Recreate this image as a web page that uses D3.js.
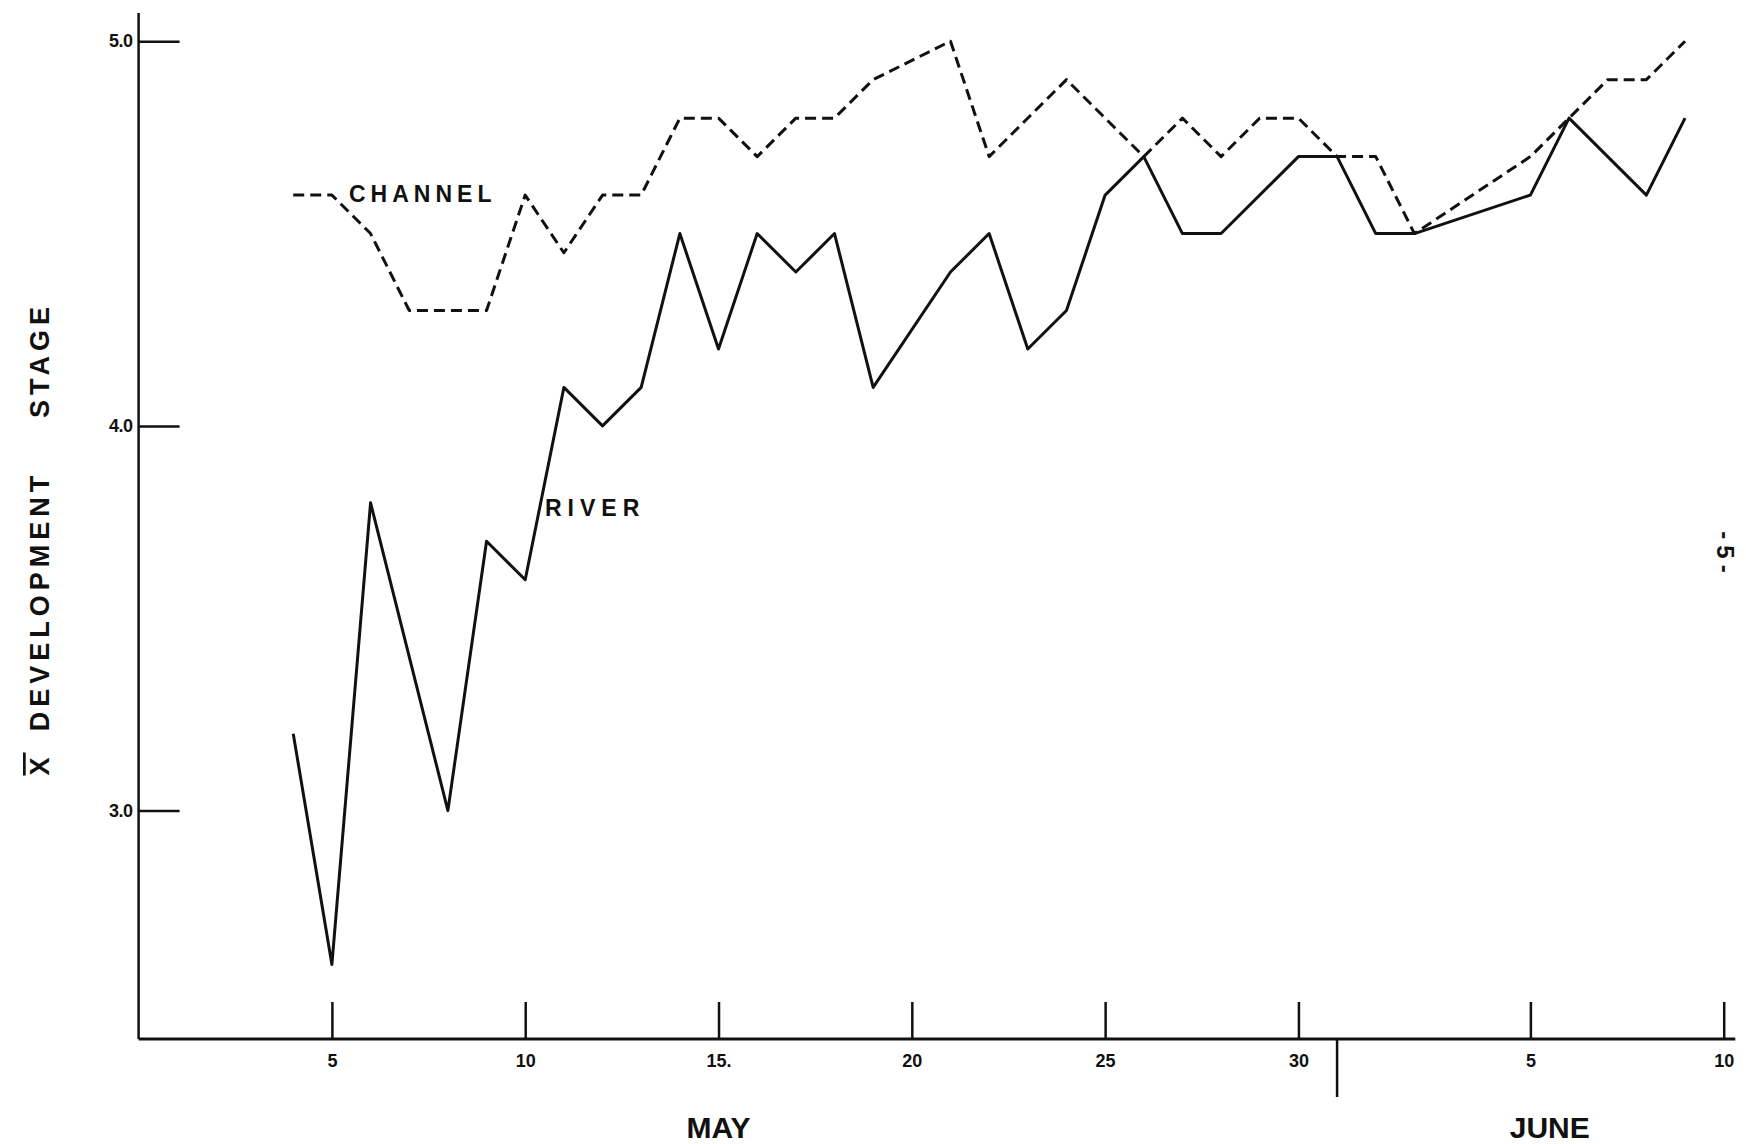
<html>

<head>
    <script src="https://d3js.org/d3.v7.min.js"></script>
    <style>
        body { margin: 0; background: white; }
    </style>
</head>

<body>
    <svg id="chart" width=1746 height=1144></svg>
    <script>
        // day index: May d -> d, June d -> 31 + d
        const riverDays = [4, 5, 6, 8, 9, 10, 11, 12, 13, 14, 15, 16, 17, 18, 19,
            21, 22, 23, 24, 25, 26, 27, 28, 30, 31, 32, 33, 36, 37, 39, 40];
        const riverValues = [3.2, 2.6, 3.8, 3.0, 3.7, 3.6, 4.1, 4.0, 4.1, 4.5, 4.2, 4.5, 4.4, 4.5, 4.1,
            4.4, 4.5, 4.2, 4.3, 4.6, 4.7, 4.5, 4.5, 4.7, 4.7, 4.5, 4.5, 4.6, 4.8, 4.6, 4.8];

        const channelDays = [4, 5, 6, 7, 8, 9, 10, 11, 12, 13, 14, 15, 16, 17, 18, 19,
            21, 22, 24, 26, 27, 28, 29, 30, 31, 32, 33, 36, 37, 38, 39, 40];
        const channelValues = [4.6, 4.6, 4.5, 4.3, 4.3, 4.3, 4.6, 4.45, 4.6, 4.6, 4.8, 4.8, 4.7, 4.8, 4.8, 4.9,
            5.0, 4.7, 4.9, 4.7, 4.8, 4.7, 4.8, 4.8, 4.7, 4.7, 4.5, 4.7, 4.8, 4.9, 4.9, 5.0];

        const xTickDays = [5, 10, 15, 20, 25, 30, 36, 41];
        const xTickLabels = ["5", "10", "15.", "20", "25", "30", "5", "10"];
        const yTickValues = [3, 4, 5];
        const yTickLabels = ["3.0", "4.0", "5.0"];
        const monthBreak = 31;
        const months = [{ name: "MAY", day: 15 }, { name: "JUNE", day: 36.5 }];

        const ink = "#111";
        const font = "'Liberation Sans', Arial, sans-serif";

        let svg = d3.select("#chart");

        let xScale = d3.scaleLinear()
            .domain([0, 41])
            .range([138.6, 1723.7]);
        let yScale = d3.scaleLinear()
            .domain([3, 5])
            .range([810.6, 41.2]);

        const axisY = 1039;
        const axisTop = 13;

        // axis lines
        svg.append("line")
            .attr("x1", xScale(0)).attr("x2", xScale(0))
            .attr("y1", axisTop).attr("y2", axisY)
            .attr("stroke", ink).attr("stroke-width", 2.5);
        svg.append("line")
            .attr("x1", xScale(0)).attr("x2", xScale(41.3))
            .attr("y1", axisY).attr("y2", axisY)
            .attr("stroke", ink).attr("stroke-width", 3);

        // x axis ticks go up, labels below
        let xAxis = d3.axisBottom(xScale)
            .tickValues(xTickDays)
            .tickSize(-37)
            .tickSizeOuter(0)
            .tickPadding(15)
            .tickFormat((d, i) => xTickLabels[i]);
        let gx = svg.append("g")
            .attr("transform", `translate(0,${axisY})`)
            .call(xAxis);
        gx.select(".domain").remove();
        gx.selectAll(".tick line").attr("stroke", ink).attr("stroke-width", 2.5);
        gx.selectAll(".tick text")
            .attr("fill", ink)
            .attr("font-family", font)
            .attr("font-weight", "bold")
            .attr("font-size", 18);

        // y axis ticks go right, labels left
        let yAxis = d3.axisLeft(yScale)
            .tickValues(yTickValues)
            .tickSize(-41)
            .tickSizeOuter(0)
            .tickPadding(6)
            .tickFormat((d, i) => yTickLabels[i]);
        let gy = svg.append("g")
            .attr("transform", `translate(${xScale(0)},0)`)
            .call(yAxis);
        gy.select(".domain").remove();
        gy.selectAll(".tick line").attr("stroke", ink).attr("stroke-width", 2.5);
        gy.selectAll(".tick text")
            .attr("fill", ink)
            .attr("font-family", font)
            .attr("font-weight", "bold")
            .attr("font-size", 18)
            .attr("letter-spacing", -0.5);

        // month divider below the axis
        svg.append("line")
            .attr("x1", xScale(monthBreak)).attr("x2", xScale(monthBreak))
            .attr("y1", axisY).attr("y2", axisY + 58)
            .attr("stroke", ink).attr("stroke-width", 2.5);

        months.forEach(m => {
            svg.append("text")
                .attr("x", xScale(m.day))
                .attr("y", 1138)
                .attr("text-anchor", "middle")
                .attr("font-family", font)
                .attr("font-weight", "bold")
                .attr("font-size", 30)
                .attr("fill", ink)
                .text(m.name);
        });

        // series
        let line = d3.line()
            .x(d => xScale(d[0]))
            .y(d => yScale(d[1]));

        svg.append("path")
            .datum(channelDays.map((d, i) => [d, channelValues[i]]))
            .attr("d", line)
            .attr("fill", "none")
            .attr("stroke", ink)
            .attr("stroke-width", 3)
            .attr("stroke-dasharray", "11,6")
            .attr("stroke-linejoin", "round");

        svg.append("path")
            .datum(riverDays.map((d, i) => [d, riverValues[i]]))
            .attr("d", line)
            .attr("fill", "none")
            .attr("stroke", ink)
            .attr("stroke-width", 3)
            .attr("stroke-linejoin", "round");

        // series labels
        svg.append("text")
            .attr("x", 349).attr("y", 202)
            .attr("font-family", font).attr("font-weight", "bold")
            .attr("font-size", 23).attr("letter-spacing", 5)
            .attr("fill", ink)
            .text("CHANNEL");
        svg.append("text")
            .attr("x", 545).attr("y", 516)
            .attr("font-family", font).attr("font-weight", "bold")
            .attr("font-size", 23).attr("letter-spacing", 6)
            .attr("fill", ink)
            .text("RIVER");

        // y axis title, rotated, in three pieces
        const yTitle = [{ t: "X", c: 764, over: true }, { t: "DEVELOPMENT", c: 601 }, { t: "STAGE", c: 360 }];
        yTitle.forEach(p => {
            svg.append("text")
                .attr("transform", `translate(49,${p.c}) rotate(-90)`)
                .attr("text-anchor", "middle")
                .attr("font-family", font).attr("font-weight", "bold")
                .attr("font-size", 27).attr("letter-spacing", 5)
                .attr("text-decoration", p.over ? "overline" : null)
                .attr("fill", ink)
                .text(p.t);
        });

        // page number
        svg.append("text")
            .attr("transform", "translate(1717,555) rotate(90)")
            .attr("text-anchor", "middle")
            .attr("font-family", font).attr("font-weight", "bold")
            .attr("font-size", 24).attr("letter-spacing", 6)
            .attr("fill", ink)
            .text("-5-");
    </script>
</body>

</html>
